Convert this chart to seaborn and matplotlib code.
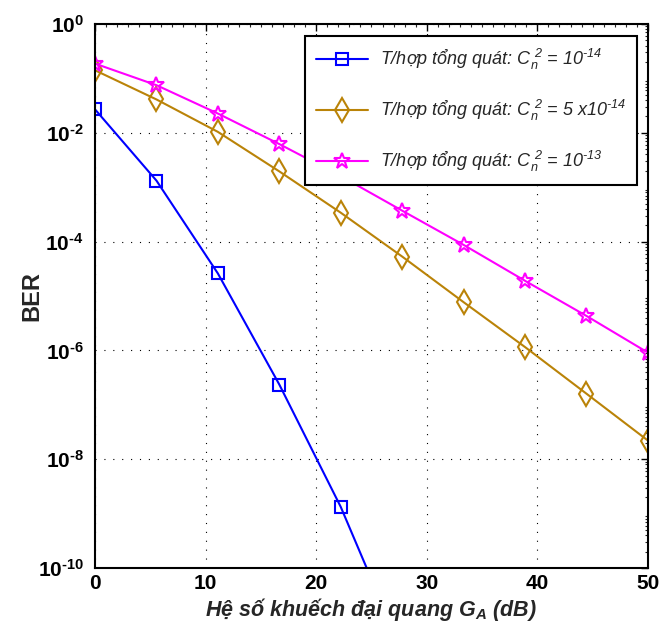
import numpy as np
import pandas as pd
import matplotlib
matplotlib.use("Agg")
import matplotlib.pyplot as plt
from matplotlib import font_manager
from matplotlib.ticker import FixedLocator, MultipleLocator, LogLocator, NullFormatter
import seaborn as sns

# Optical amplifier gain (dB)
gain_db = [0, 5.56, 11.11, 16.67, 22.22, 27.78, 33.33, 38.89, 44.44, 50]

# BER for the three turbulence strengths
ber_cn_1e14 = [2.7e-2, 1.32e-3, 2.6e-5, 2.35e-7, 1.33e-9, 2.9e-12]
ber_cn_5e14 = [1.41e-1, 4.1e-2, 1.04e-2, 1.95e-3, 3.4e-4, 5.3e-5, 7.7e-6, 1.15e-6, 1.6e-7, 2.2e-8]
ber_cn_1e13 = [1.87e-1, 7.5e-2, 2.26e-2, 6.2e-3, 1.6e-3, 3.7e-4, 8.7e-5, 1.9e-5, 4.3e-6, 9.1e-7]

labels = [
    "T/hợp tổng quát: $\\mathdefault{C_n^{\\ 2}}$ = $\\mathdefault{10^{\u201014}}$",
    "T/hợp tổng quát: $\\mathdefault{C_n^{\\ 2}}$ = 5 x$\\mathdefault{10^{\u201014}}$",
    "T/hợp tổng quát: $\\mathdefault{C_n^{\\ 2}}$ = $\\mathdefault{10^{\u201013}}$",
]
colors = ["#0000FF", "#BA8308", "#FF00FF"]

x_ticks = [0, 10, 20, 30, 40, 50]
x_tick_labels = ["0", "10", "20", "30", "40", "50"]
y_ticks = [1e0, 1e-2, 1e-4, 1e-6, 1e-8, 1e-10]
y_tick_labels = ["$\\mathdefault{10^{0}}$", "$\\mathdefault{10^{\u20102}}$", "$\\mathdefault{10^{\u20104}}$",
                 "$\\mathdefault{10^{\u20106}}$", "$\\mathdefault{10^{\u20108}}$", "$\\mathdefault{10^{\u201010}}$"]

sns.set_style("white")
plt.rcParams["font.family"] = ["Liberation Sans", "DejaVu Sans"]

installed = {f.name for f in font_manager.fontManager.ttflist}
if "Liberation Sans Narrow" in installed:
    tick_font = dict(family=["Liberation Sans Narrow", "Liberation Sans"], size=17, weight="bold")
else:
    tick_font = dict(family=["Liberation Sans", "DejaVu Sans"], size=15, weight="bold")

fig = plt.figure(figsize=(6.61, 6.28), dpi=100)
ax = fig.add_axes([0.1437, 0.0955, 0.8366, 0.8663])

series = [
    (gain_db[:len(ber_cn_1e14)], ber_cn_1e14, "s", 9, labels[0], colors[0]),
    (gain_db, ber_cn_5e14, "d", 12, labels[1], colors[1]),
    (gain_db, ber_cn_1e13, "*", 12, labels[2], colors[2]),
]
for xs, ys, mk, ms, lab, col in series:
    df = pd.DataFrame({"gain": xs, "ber": ys})
    sns.lineplot(data=df, x="gain", y="ber", ax=ax, color=col, linewidth=1.5,
                 marker=mk, markersize=ms, markerfacecolor="none",
                 markeredgecolor=col, markeredgewidth=1.5, label=lab)

ax.set_yscale("log")
ax.set_xlim(0, 50)
ax.set_ylim(1e-10, 1e0)

ax.xaxis.set_major_locator(FixedLocator(x_ticks))
ax.set_xticklabels(x_tick_labels, fontdict=tick_font)
ax.xaxis.set_minor_locator(MultipleLocator(1))
ax.yaxis.set_major_locator(FixedLocator(y_ticks))
ax.set_yticklabels(y_tick_labels, fontdict=tick_font)
ax.yaxis.set_minor_locator(LogLocator(base=10, subs=np.arange(2, 10), numticks=100))
ax.yaxis.set_minor_formatter(NullFormatter())

ax.tick_params(axis="both", which="major", direction="in", length=5, width=1.0,
               top=True, right=True, colors="black")
ax.tick_params(axis="x", which="major", pad=4)
ax.tick_params(axis="y", which="major", pad=8)
ax.tick_params(axis="both", which="minor", direction="in", length=2.5, width=0.8,
               top=True, right=True)

ax.grid(True, which="major", linestyle=(0, (1, 7)), color="black", linewidth=0.8)
for s in ax.spines.values():
    s.set_color("black")
    s.set_linewidth(1.5)

ax.set_xlabel("Hệ số khuếch đại quang $\\mathdefault{G_A}$ (dB)", fontsize=15.5,
              fontweight="bold", fontstyle="italic")
ax.xaxis.set_label_coords(0.5, -0.052)
ax.set_ylabel("BER", fontsize=17, fontweight="bold")
ax.yaxis.set_label_coords(-0.114, 0.5)
ax.yaxis.label.set_va("center")

leg = ax.legend(loc="upper right", bbox_to_anchor=(0.9805, 0.978),
                prop={"style": "italic", "size": 13}, frameon=True, fancybox=False,
                edgecolor="black", framealpha=1, handlelength=2.9, labelspacing=1.45,
                borderpad=0.6, handletextpad=0.65, borderaxespad=0)
leg.get_frame().set_linewidth(1.5)

fig.savefig("out.png", dpi=100)
